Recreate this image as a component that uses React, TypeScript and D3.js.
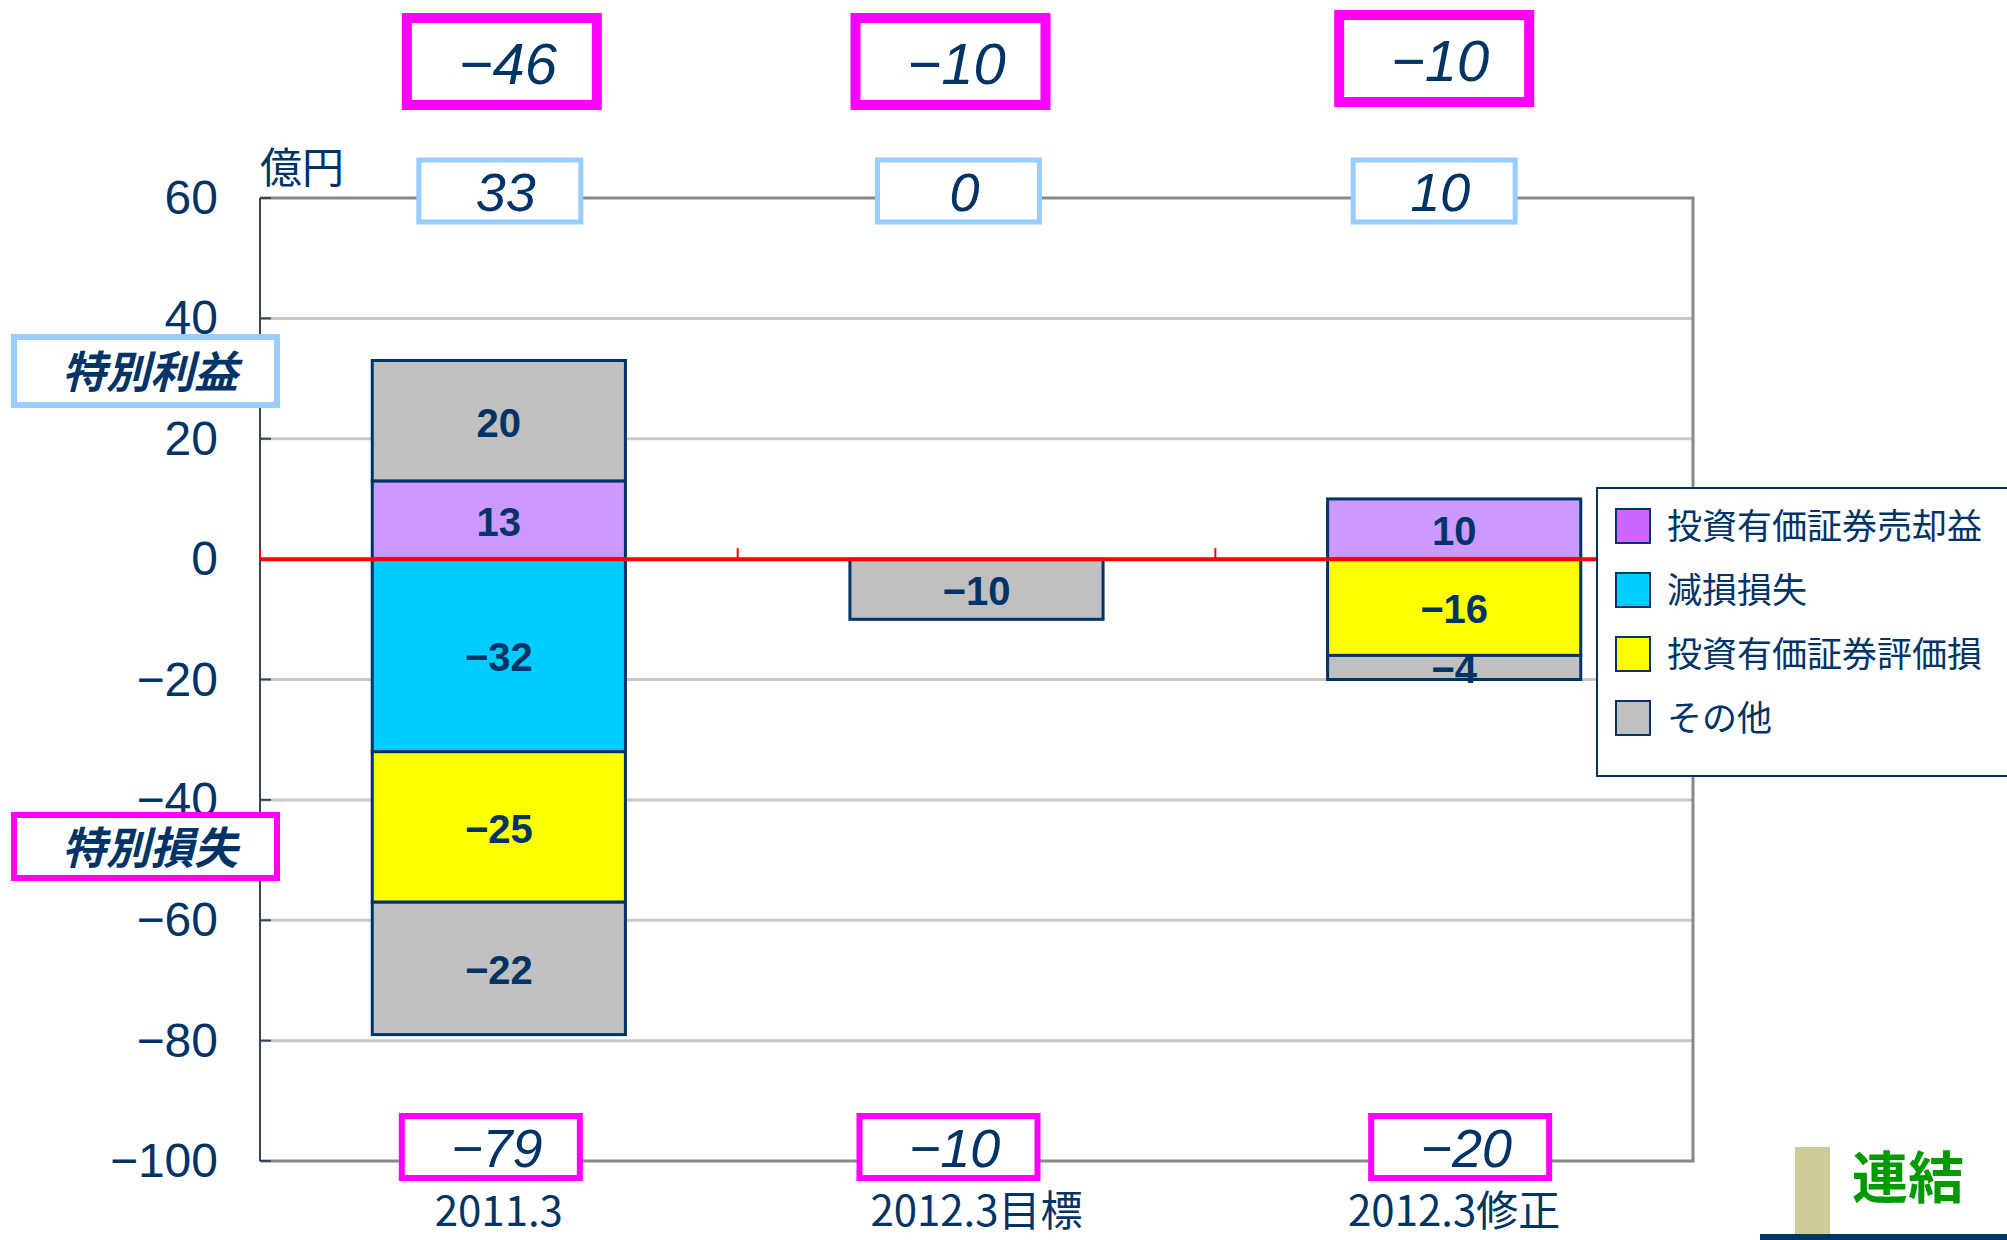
import React from 'react';
import * as d3 from 'd3';

const W = 2007;
const H = 1240;

// categories and series (億円)
const categories = ['2011.3', '2012.3目標', '2012.3修正'];
const seriesKeys = ['saleGain', 'otherGain', 'impairment', 'valuationLoss', 'otherLoss'];
const saleGain = [13, 0, 10];
const otherGain = [20, 0, 0];
const impairment = [-32, 0, 0];
const valuationLoss = [-25, 0, -16];
const otherLoss = [-22, -10, -4];
const seriesColors = ['#cc99ff', '#c0c0c0', '#00ccff', '#ffff00', '#c0c0c0'];

const gainTotals = [33, 0, 10];
const lossTotals = [-79, -10, -20];
const netTotals = [-46, -10, -10];

const yTicks = [60, 40, 20, 0, -20, -40, -60, -80, -100];

const legendLabels = ['投資有価証券売却益', '減損損失', '投資有価証券評価損', 'その他'];
const legendColors = ['#cc66ff', '#00ccff', '#ffff00', '#c0c0c0'];

// boxes are not exactly centred on the bars in the original slide
const netShift = [3, -26, -20];
const gainShift = [1, -18, -20];
const lossShift = [-8, -28, 6];

const NAVY = '#003366';
const MAGENTA = '#ff00ff';
const LIGHTBLUE = '#99ccff';
const NUM_FONT = '"Liberation Sans Narrow", "Liberation Sans", Arial, sans-serif';
const JP_FONT = '"Noto Sans CJK JP", "Liberation Sans Narrow", sans-serif';

const fmt = (v: number) => (v < 0 ? '\u2212' + Math.abs(v) : String(v));

const App = () => {
  const plot = { left: 260, right: 1693, top: 198, bottom: 1161 };

  const x = d3.scaleBand().domain(categories).range([plot.left, plot.right]).paddingInner(0).paddingOuter(0);
  const y = d3.scaleLinear().domain([-100, 60]).range([plot.bottom, plot.top]);
  const barW = x.bandwidth() * 0.53;

  const rows = categories.map((c, i) => ({
    cat: c,
    saleGain: saleGain[i],
    otherGain: otherGain[i],
    impairment: impairment[i],
    valuationLoss: valuationLoss[i],
    otherLoss: otherLoss[i],
  }));
  const stack = d3.stack<any>().keys(seriesKeys).offset(d3.stackOffsetDiverging);
  const layers = stack(rows);

  const cx = (c: string) => (x(c) as number) + x.bandwidth() / 2;

  return (
    <svg width={W} height={H} style={{ position: 'absolute', left: 0, top: 0, background: '#fff' }}>
      {/* gridlines */}
      {yTicks.filter(t => t !== 60 && t !== -100 && t !== 0).map(t => (
        <line key={t} x1={plot.left} x2={plot.right} y1={y(t)} y2={y(t)} stroke="#c8c8c8" strokeWidth={3} />
      ))}
      {/* plot frame top/right/bottom */}
      <path
        d={`M${plot.left},${y(60)}H${plot.right}V${y(-100)}H${plot.left}`}
        fill="none"
        stroke="#888888"
        strokeWidth={3}
      />
      {/* left axis */}
      <line x1={plot.left} x2={plot.left} y1={y(60)} y2={y(-100)} stroke="#33475b" strokeWidth={2} />
      {yTicks.map(t => (
        <line key={t} x1={plot.left} x2={plot.left + 11} y1={y(t)} y2={y(t)} stroke="#33475b" strokeWidth={2} />
      ))}
      {yTicks.map(t => (
        <text key={t} x={218} y={y(t) + 16} textAnchor="end" fontFamily={NUM_FONT} fontSize={48} fill={NAVY}>
          {fmt(t)}
        </text>
      ))}
      <text x={plot.left} y={183} fontFamily={JP_FONT} fontSize={42} fill={NAVY}>
        億円
      </text>

      {/* bars */}
      {layers.map((layer, li) =>
        layer.map((d, i) => {
          const v = d.data[seriesKeys[li]];
          if (!v) return null;
          const c = categories[i];
          const y0 = y(Math.max(d[0], d[1]));
          const y1 = y(Math.min(d[0], d[1]));
          return (
            <rect
              key={`${li}-${i}`}
              x={cx(c) - barW / 2}
              y={y0}
              width={barW}
              height={y1 - y0}
              fill={seriesColors[li]}
              stroke={NAVY}
              strokeWidth={3}
            />
          );
        })
      )}

      {/* zero line */}
      <line x1={plot.left} x2={1597} y1={y(0)} y2={y(0)} stroke="#ff0000" strokeWidth={4} />
      {[plot.left, ...categories.slice(1).map(c => x(c) as number)].map((tx, i) => (
        <line key={i} x1={tx} x2={tx} y1={y(0)} y2={y(0) - 11} stroke="#ff0000" strokeWidth={2} />
      ))}

      {/* bar labels */}
      {layers.map((layer, li) =>
        layer.map((d, i) => {
          const v = d.data[seriesKeys[li]];
          if (!v) return null;
          const c = categories[i];
          const mid = y((d[0] + d[1]) / 2);
          return (
            <text
              key={`t${li}-${i}`}
              x={cx(c)}
              y={mid + 16}
              textAnchor="middle"
              fontFamily={NUM_FONT}
              fontWeight="bold"
              fontSize={40}
              fill={NAVY}
            >
              {fmt(v)}
            </text>
          );
        })
      )}

      {/* net total boxes (top) */}
      {categories.map((c, i) => (
        <g key={`n${i}`}>
          <rect
            x={cx(c) + netShift[i] - 95}
            y={18 - (i === 2 ? 3 : 0)}
            width={190}
            height={87}
            fill="#fff"
            stroke={MAGENTA}
            strokeWidth={10}
          />
          <text
            x={cx(c) + netShift[i] + 6}
            y={84 - (i === 2 ? 3 : 0)}
            textAnchor="middle"
            fontFamily={NUM_FONT}
            fontStyle="italic"
            fontSize={58}
            fill={NAVY}
          >
            {fmt(netTotals[i])}
          </text>
        </g>
      ))}

      {/* gain total boxes */}
      {categories.map((c, i) => (
        <g key={`g${i}`}>
          <rect x={cx(c) + gainShift[i] - 81} y={160} width={162} height={62} fill="#fff" stroke={LIGHTBLUE} strokeWidth={5} />
          <text
            x={cx(c) + gainShift[i] + 6}
            y={211}
            textAnchor="middle"
            fontFamily={NUM_FONT}
            fontStyle="italic"
            fontSize={54}
            fill={NAVY}
          >
            {fmt(gainTotals[i])}
          </text>
        </g>
      ))}

      {/* loss total boxes (bottom) */}
      {categories.map((c, i) => (
        <g key={`l${i}`}>
          <rect
            x={cx(c) + lossShift[i] - 89}
            y={1116}
            width={178}
            height={62}
            fill="#fff"
            stroke={MAGENTA}
            strokeWidth={6}
          />
          <text
            x={cx(c) + lossShift[i] + 6}
            y={1167}
            textAnchor="middle"
            fontFamily={NUM_FONT}
            fontStyle="italic"
            fontSize={54}
            fill={NAVY}
          >
            {fmt(lossTotals[i])}
          </text>
        </g>
      ))}

      {/* category labels */}
      {categories.map(c => (
        <text key={c} x={cx(c)} y={1226} textAnchor="middle" fontFamily={JP_FONT} fontSize={42} fill={NAVY}>
          {c}
        </text>
      ))}

      {/* side labels */}
      <rect x={14} y={337} width={263} height={68} fill="#fff" stroke={LIGHTBLUE} strokeWidth={6} />
      <text x={150} y={388} textAnchor="middle" fontFamily={JP_FONT} fontWeight="bold" fontStyle="italic" fontSize={44} fill={NAVY}>
        特別利益
      </text>
      <rect x={14} y={815} width={263} height={63} fill="#fff" stroke={MAGENTA} strokeWidth={6} />
      <text x={150} y={864} textAnchor="middle" fontFamily={JP_FONT} fontWeight="bold" fontStyle="italic" fontSize={44} fill={NAVY}>
        特別損失
      </text>

      {/* legend */}
      <rect x={1597} y={488} width={420} height={288} fill="#fff" stroke={NAVY} strokeWidth={2} />
      {legendLabels.map((l, i) => (
        <g key={l}>
          <rect x={1616} y={509 + i * 64} width={34} height={34} fill={legendColors[i]} stroke={NAVY} strokeWidth={2} />
          <text x={1667} y={539 + i * 64} fontFamily={JP_FONT} fontSize={35} fill={NAVY}>
            {l}
          </text>
        </g>
      ))}

      {/* 連結 badge */}
      <rect x={1795} y={1147} width={35} height={88} fill="#cccc99" />
      <rect x={1760} y={1234} width={247} height={6} fill={NAVY} />
      <text x={1852} y={1198} fontFamily={JP_FONT} fontWeight="bold" fontSize={56} fill="#009900">
        連結
      </text>
    </svg>
  );
};

export default App;
